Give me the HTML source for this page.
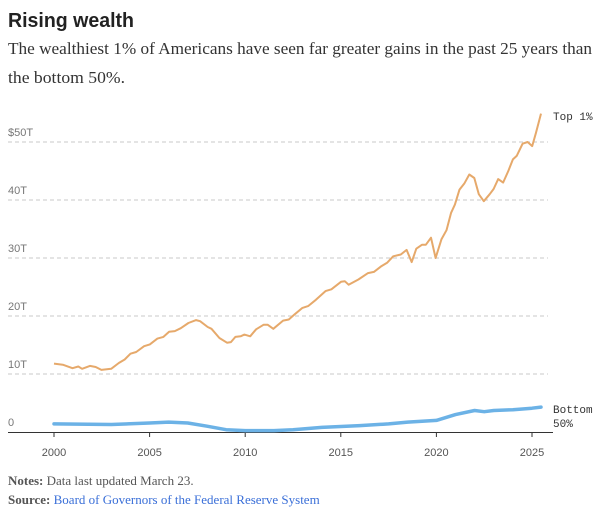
<!DOCTYPE html>
<html><head><meta charset="utf-8"><style>
html,body{margin:0;padding:0;background:#fff;}
svg{display:block;}
</style></head><body>
<svg id="chart" width="603" height="517" viewBox="0 0 603 517" xmlns="http://www.w3.org/2000/svg">
<text x="8" y="27" font-family="Liberation Sans, sans-serif" font-weight="bold" font-size="20" fill="#222" textLength="126" lengthAdjust="spacingAndGlyphs">Rising wealth</text>
<text x="8" y="54" font-family="Liberation Serif, serif" font-size="17" fill="#333" textLength="584" lengthAdjust="spacingAndGlyphs">The wealthiest 1% of Americans have seen far greater gains in the past 25 years than</text>
<text x="8" y="83" font-family="Liberation Serif, serif" font-size="17" fill="#333" textLength="117" lengthAdjust="spacingAndGlyphs">the bottom 50%.</text>
<g id="grid"></g>
<g id="xaxis"></g>
<g id="series"></g>
<text x="553" y="120" font-family="Liberation Mono, monospace" font-size="11" fill="#333">Top 1%</text>
<text x="553" y="413" font-family="Liberation Mono, monospace" font-size="11" fill="#333">Bottom</text>
<text x="553" y="427" font-family="Liberation Mono, monospace" font-size="11" fill="#333">50%</text>
<text x="8" y="485" font-family="Liberation Serif, serif" font-size="13" fill="#555"><tspan font-weight="bold">Notes:</tspan> Data last updated March 23.</text>
<text x="8" y="504" font-family="Liberation Serif, serif" font-size="13" fill="#555"><tspan font-weight="bold">Source:</tspan> <tspan fill="#3a6fd8">Board of Governors of the Federal Reserve System</tspan></text>
</svg>
<script>
const yTicks = [0, 10, 20, 30, 40, 50];
const yTickLabels = ["0", "10T", "20T", "30T", "40T", "$50T"];
const xTicks = [2000, 2005, 2010, 2015, 2020, 2025];
const topYears = [2000.0,2000.46,2000.97,2001.27,2001.47,2001.88,2002.18,2002.48,2002.99,2003.39,2003.7,2004.0,2004.3,2004.71,2005.01,2005.41,2005.72,2006.02,2006.32,2006.63,2007.03,2007.43,2007.64,2008.04,2008.24,2008.65,2009.05,2009.25,2009.49,2009.76,2009.96,2010.26,2010.57,2010.97,2011.17,2011.47,2011.98,2012.28,2012.59,2012.99,2013.29,2013.7,2014.2,2014.51,2015.01,2015.21,2015.41,2015.92,2016.42,2016.73,2017.13,2017.43,2017.74,2018.14,2018.44,2018.71,2018.95,2019.25,2019.45,2019.72,2019.96,2020.26,2020.53,2020.77,2020.97,2021.21,2021.47,2021.72,2021.98,2022.22,2022.48,2022.79,2022.99,2023.23,2023.49,2023.76,2024.0,2024.2,2024.51,2024.77,2025.01,2025.21,2025.47];
const topValues = [11.8,11.6,11.0,11.3,10.9,11.4,11.2,10.7,10.9,11.9,12.5,13.5,13.8,14.8,15.1,16.1,16.4,17.3,17.4,17.9,18.8,19.3,19.1,18.1,17.8,16.2,15.4,15.5,16.4,16.5,16.8,16.5,17.7,18.5,18.5,17.8,19.2,19.4,20.3,21.4,21.7,22.8,24.3,24.6,25.9,26.0,25.4,26.3,27.4,27.6,28.6,29.2,30.3,30.6,31.4,29.3,31.6,32.3,32.3,33.5,30.0,33.2,34.8,37.8,39.2,41.8,42.9,44.4,43.8,41.0,39.8,41.0,41.9,43.6,43.0,45.0,47.0,47.6,49.7,50.0,49.3,51.6,54.9];
const bottomYears = [2000,2003,2005,2006,2007,2008,2009,2010,2011.5,2012.5,2014,2016,2017.5,2018.5,2020,2021,2022,2022.5,2023,2024,2025,2025.47];
const bottomValues = [1.4,1.3,1.55,1.7,1.55,1.0,0.4,0.25,0.25,0.4,0.8,1.1,1.4,1.7,2.0,3.0,3.7,3.5,3.7,3.85,4.1,4.3];

const NS = "http://www.w3.org/2000/svg";
const x = yr => 54 + (yr - 2000) * (532 - 54) / 25;
const y = v => 432 - v * 5.8;
function mk(tag, attrs, parent) {
  const el = document.createElementNS(NS, tag);
  for (const k in attrs) el.setAttribute(k, attrs[k]);
  parent.appendChild(el);
  return el;
}
const grid = document.getElementById('grid');
yTicks.forEach((t, i) => {
  if (t > 0) {
    const l = mk('line', {x1: 8, x2: 548, y1: y(t), y2: y(t), stroke: '#c8c8c8', 'stroke-dasharray': '4,3', 'stroke-width': 1}, grid);
    
    
  }
  const tx = mk('text', {x: 8, y: y(t) - 6, 'font-family': 'Liberation Sans, sans-serif', 'font-size': 11, fill: '#777'}, grid);
  tx.textContent = yTickLabels[i];
  
  
});
const xa = document.getElementById('xaxis');
const base = mk('line', {x1: 8, x2: 553, y1: 432.5, y2: 432.5, stroke: '#333', 'stroke-width': 1}, xa);


xTicks.forEach(t => {
  const tk = mk('line', {x1: x(t), x2: x(t), y1: 432, y2: 437, stroke: '#333', 'stroke-width': 1}, xa);
  
  
  const tx = mk('text', {x: x(t), y: 456, 'text-anchor': 'middle', 'font-family': 'Liberation Sans, sans-serif', 'font-size': 11, fill: '#555'}, xa);
  tx.textContent = t;
  
  
});
const s = document.getElementById('series');
const bp = mk('path', {d: bottomYears.map((yr, i) => (i ? 'L' : 'M') + x(yr).toFixed(1) + ',' + y(bottomValues[i]).toFixed(1)).join(''), fill: 'none', stroke: '#6cb2e6', 'stroke-width': 3.5, 'stroke-linejoin': 'round', 'stroke-linecap': 'round'}, s);


const tp = mk('path', {d: topYears.map((yr, i) => (i ? 'L' : 'M') + x(yr).toFixed(1) + ',' + y(topValues[i]).toFixed(1)).join(''), fill: 'none', stroke: '#e6a96b', 'stroke-width': 2, 'stroke-linejoin': 'round'}, s);


</script>
</body></html>
